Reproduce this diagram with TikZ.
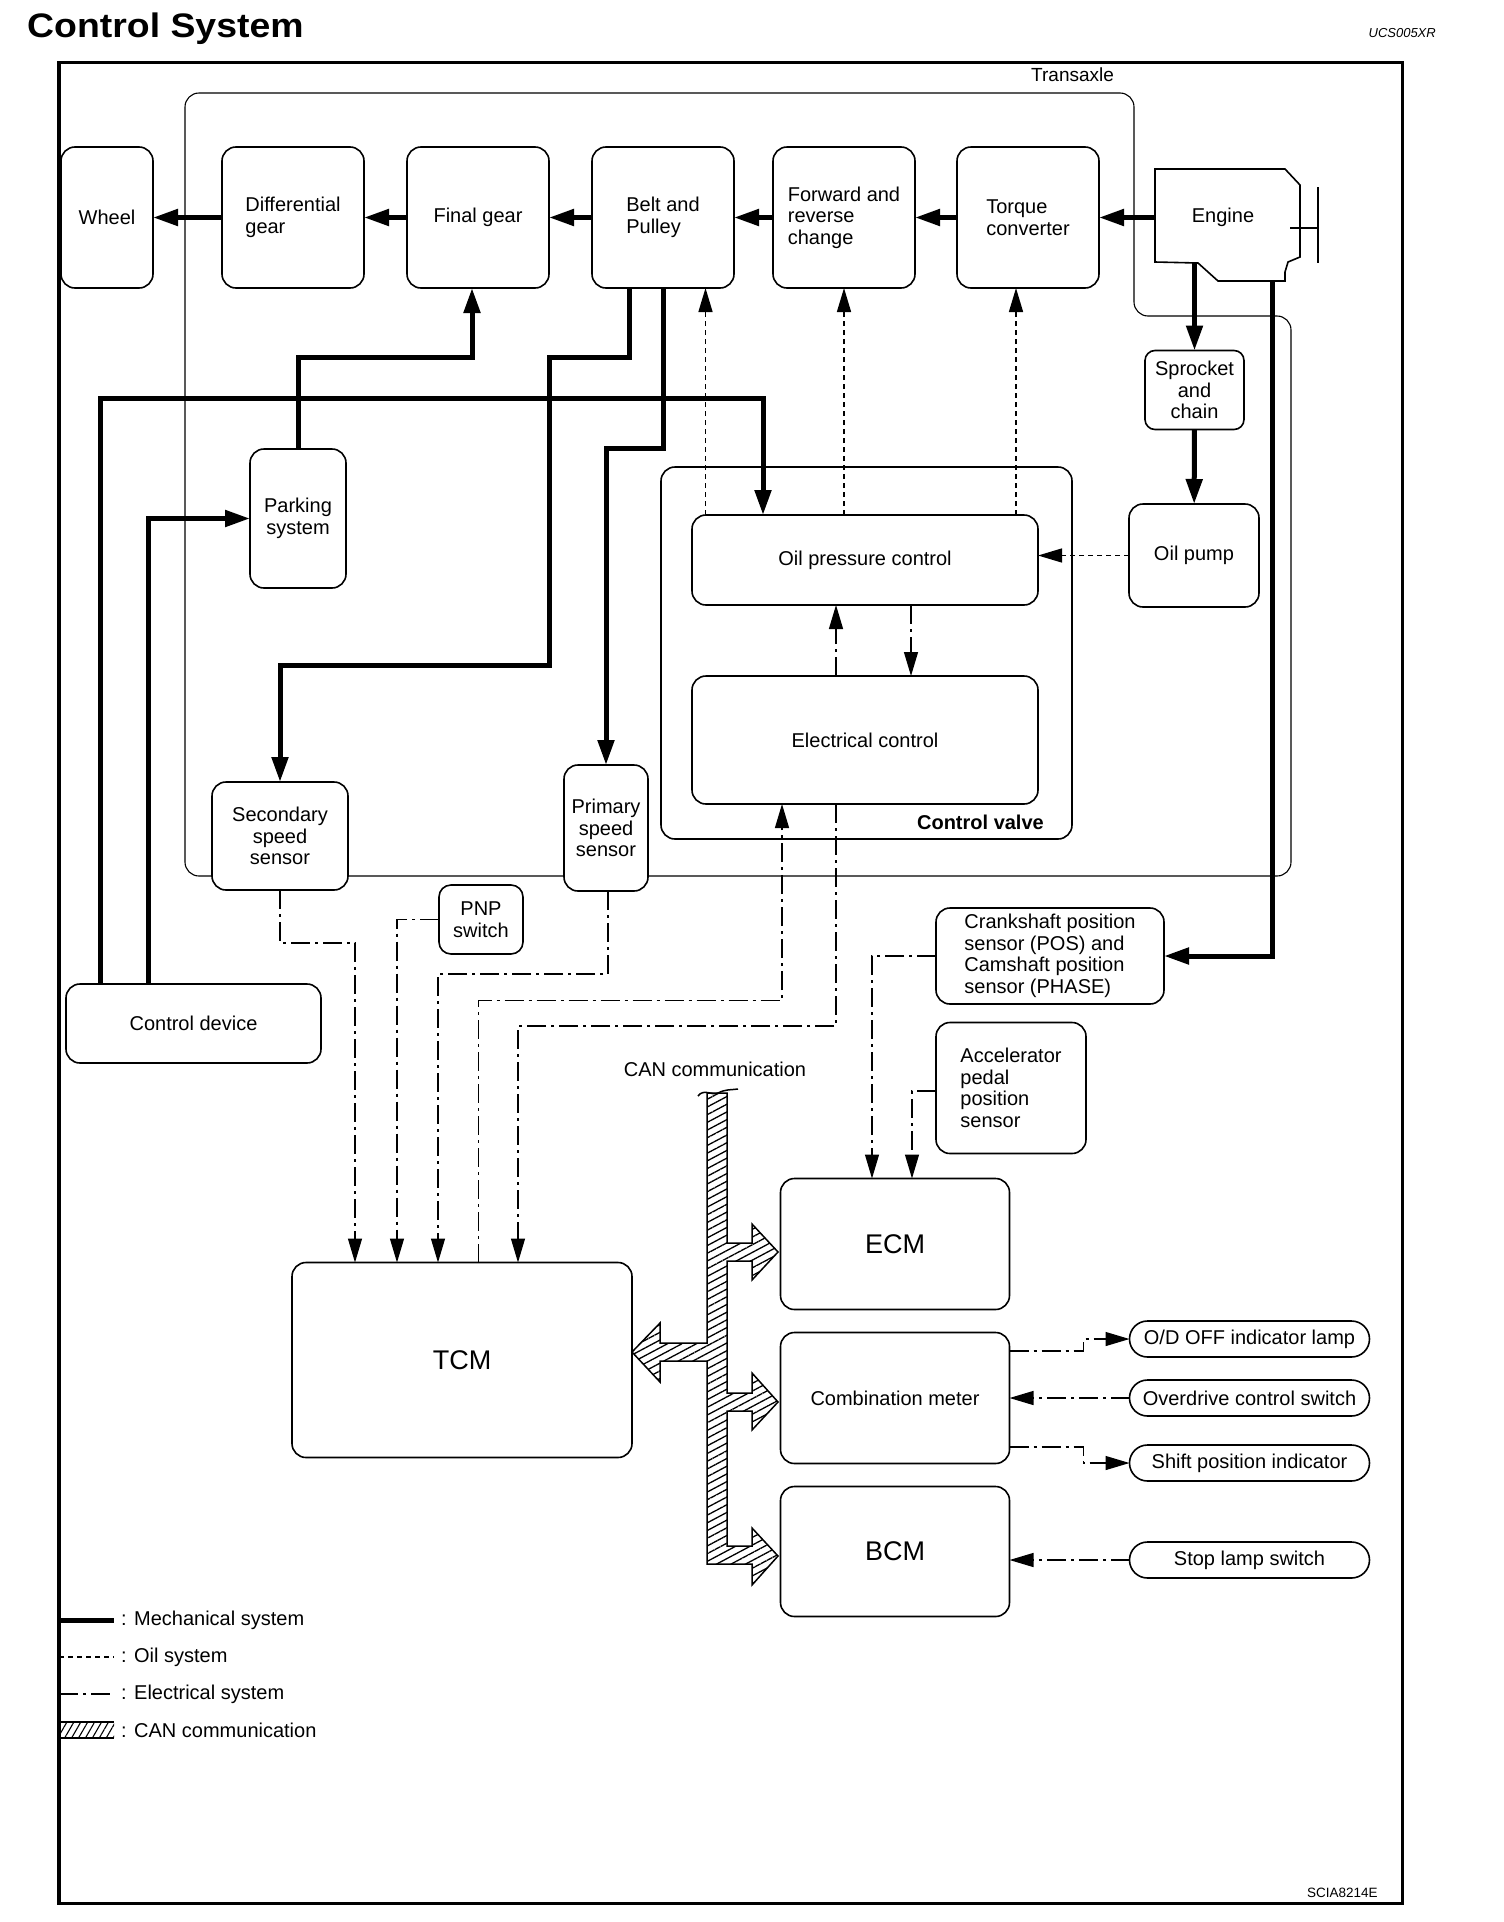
\documentclass[tikz,border=0pt]{standalone}
\usepackage{fontspec}
\setmainfont{Liberation Sans}
\usetikzlibrary{positioning, arrows.meta, patterns.meta}

\newcommand{\boxfont}{\fontsize{20}{21.5}\selectfont}
\newcommand{\bigfont}{\fontsize{27}{30}\selectfont}

\begin{document}
\begin{tikzpicture}[
    x=1pt, y=-1pt,
    node distance=23pt and 42pt,
    blk/.style={
        rectangle, rounded corners=14pt, draw, line width=1.6pt, fill=white,
        inner sep=2pt, outer sep=0pt, font=\boxfont, align=center
    },
    topblk/.style={blk, minimum width=142pt, minimum height=141pt},
    unit/.style={blk, minimum width=229pt, minimum height=131pt, font=\bigfont},
    pill/.style={blk, rounded corners=18pt, minimum width=240pt, minimum height=36pt},
    mechline/.style={line width=5pt},
    oilline/.style={line width=1.4pt, dash pattern=on 5pt off 4pt},
    elecline/.style={line width=1.3pt, dash pattern=on 19pt off 5pt on 3pt off 5pt},
    mech/.style={mechline, -{Triangle[length=25pt, width=16pt]}},
    oil/.style={oilline, -{Triangle[length=24pt, width=14pt]}},
    elec/.style={elecline, -{Triangle[length=24pt, width=14pt]}},
    can/.style={line width=1.5pt, pattern={Lines[angle=28, distance=6.8pt, line width=1.3pt]}}
]

\useasboundingbox (0,0) rectangle (1504,1922);

% Frame and titles
\draw[line width=3.5pt] (59,62.5) rectangle (1402.5,1903.5);
\node[anchor=base west, inner sep=0pt, font=\fontsize{34}{36}\selectfont\bfseries] (title) at (27,37) {\scalebox{1.1}[1]{Control System}};
\node[anchor=base east, inner sep=0pt, font=\fontsize{13}{15}\selectfont\itshape] (ucs) at (1436,37) {UCS005XR};
\node[anchor=base west, inner sep=0pt, font=\fontsize{13.5}{15}\selectfont] (scia) at (1307,1897) {SCIA8214E};

% Transaxle housing
\draw[line width=1.1pt, rounded corners=14pt] (600,93) -- (1134,93) -- (1134,316) -- (1291,316) -- (1291,876) -- (185,876) -- (185,93) -- cycle;
\node[anchor=base west, inner sep=0pt, font=\fontsize{19}{21}\selectfont] (transaxle) at (1031,81) {Transaxle};

% Control valve
\node[blk, minimum width=411pt, minimum height=372pt] (cv) at (866.5,653) {};
\node[anchor=base east, inner sep=0pt, font=\boxfont\bfseries] (cvlabel) at ([xshift=-28pt, yshift=10pt]cv.south east) {Control valve};

% Drive line — top row
\node[blk, minimum width=92pt, minimum height=141pt] (wheel) at (107,217.5) {Wheel};
\node[topblk, right=69pt of wheel, align=left] (diff) {Differential\\gear};
\node[topblk, right=43pt of diff] (fgear) {Final gear};
\node[topblk, right=43pt of fgear, align=left] (belt) {Belt and\\Pulley};
\node[topblk, right=39pt of belt, align=left] (fwd) {Forward and\\reverse\\change};
\node[topblk, right=42pt of fwd, align=left] (torque) {Torque\\converter};

% Engine
\draw[line width=1.6pt] (1155,169) -- (1285,169) -- (1300,185) -- (1300,257) -- (1288,262) -- (1285,272) -- (1285,281) -- (1218,281) -- (1198,263) -- (1155,262) -- cycle;
\draw[line width=1.6pt] (1318,187) -- (1318,263);
\draw[line width=1.6pt] (1290,228) -- (1318,228);
\node[font=\boxfont] (engine) at (1223,217) {Engine};
\coordinate (engW) at (1155,217.5);
\coordinate (engS) at (1194.5,262);
\coordinate (engD) at (1272,281);

% Right of the housing
\node[blk, rounded corners=10pt, minimum width=99pt, minimum height=79pt] (sprocket) at (1194.5,390) {Sprocket\\and\\chain};
\node[blk, minimum width=130pt, minimum height=103pt] (oilpump) at (1194,555.5) {Oil pump};

% Inside the housing
\node[blk, minimum width=96pt, minimum height=139pt] (parking) at (298,518.5) {Parking\\system};
\node[blk, minimum width=346pt, minimum height=90pt] (oilpc) at (865,560) {Oil pressure control};
\node[blk, minimum width=346pt, minimum height=128pt] (elecc) at (865,740) {Electrical control};
\node[blk, minimum width=136pt, minimum height=108pt] (secondary) at (280,836) {Secondary\\speed\\sensor};
\node[blk, minimum width=84pt, minimum height=126pt] (primary) at (606,828) {Primary\\speed\\sensor};

% Sensors and switches
\node[blk, rounded corners=12pt, minimum width=84pt, minimum height=69pt] (pnp) at (481,919.5) {PNP\\switch};
\node[blk, minimum width=255pt, minimum height=79pt] (ctrldev) at (193.5,1023.5) {Control device};
\node[blk, minimum width=228pt, minimum height=96pt, align=left] (crank) at (1050,956) {Crankshaft position\\sensor (POS) and\\Camshaft position\\sensor (PHASE)};
\node[blk, minimum width=150pt, minimum height=131pt, align=left] (accel) at (1011,1088) {Accelerator\\pedal\\position\\sensor};

% Control units
\node[blk, minimum width=340pt, minimum height=195pt, font=\bigfont] (tcm) at (462,1360) {TCM};
\node[unit] (ecm) at (895,1244) {ECM};
\node[unit, below=of ecm, font=\boxfont] (comb) {Combination meter};
\node[unit, below=of comb, minimum height=130pt] (bcm) {BCM};

\node[pill] (odoff) at (1249.5,1339) {O/D OFF indicator lamp};
\node[pill] (odsw) at (1249.5,1398) {Overdrive control switch};
\node[pill] (shiftind) at (1249.5,1463) {Shift position indicator};
\node[pill] (stoplamp) at (1249.5,1560) {Stop lamp switch};

% CAN communication
\node[font=\boxfont] (canlabel) at (715,1069) {CAN communication};
\draw[can] (707,1093) -- (727,1093) -- (727,1243) -- (752,1243) -- (752,1224) -- (778,1252) -- (752,1280) -- (752,1261) -- (727,1261)
    -- (727,1393) -- (752,1393) -- (752,1373) -- (778,1402) -- (752,1430) -- (752,1411) -- (727,1411)
    -- (727,1546) -- (752,1546) -- (752,1528) -- (778,1556) -- (752,1585) -- (752,1564) -- (707,1564)
    -- (707,1361) -- (660,1361) -- (660,1382) -- (632,1352) -- (660,1323) -- (660,1343) -- (707,1343) -- cycle;
\draw[line width=1.5pt] (698,1096) .. controls (704,1088) and (712,1096) .. (718,1093) .. controls (726,1089) and (731,1090) .. (738,1089);

% === Mechanical system ===
\draw[mech] (engW) -- (torque);
\draw[mech] (torque) -- (fwd);
\draw[mech] (fwd) -- (belt);
\draw[mech] (belt) -- (fgear);
\draw[mech] (fgear) -- (diff);
\draw[mech] (diff) -- (wheel);
\draw[mech] (engS) -- (sprocket);
\draw[mech] (sprocket) -- (oilpump);
\draw[mech] (engD) |- (crank.east);
\draw[mech] (parking.north) -- ++(0,-92) -| ([xshift=-6pt]fgear.south);
\draw[mech] ([xshift=-34pt]belt.south) |- ++(-80,69) -- ++(0,308) -| (secondary.north);
\draw[mech] (belt.south) -- ++(0,160) -| (primary.north);
\draw[mech] ([xshift=-93pt]ctrldev.north) -- ++(0,-586) -| ([xshift=-102pt]oilpc.north);
\draw[mech] ([xshift=-45pt]ctrldev.north) |- (parking.west);

% === Oil system ===
\draw[oil] ([xshift=-159.5pt]oilpc.north) -- ([xshift=42.5pt]belt.south);
\draw[oil] (oilpc.north -| fwd.south) -- (fwd.south);
\draw[oil] ([xshift=151pt]oilpc.north) -- ([xshift=-12pt]torque.south);
\draw[oil] (oilpump.west) -- (oilpump.west -| oilpc.east);

% === Electrical system ===
\draw[elec] ([xshift=-29pt]elecc.north) -- ([xshift=-29pt]oilpc.south);
\draw[elec] ([xshift=46pt]oilpc.south) -- ([xshift=46pt]elecc.north);
\draw[elec] ([xshift=16.5pt]tcm.north) -- ++(0,-262) -| ([xshift=-83pt]elecc.south);
\draw[elec] ([xshift=-29pt]elecc.south) -- ++(0,222) -| ([xshift=56pt]tcm.north);
\draw[elec] (secondary.south) -- ++(0,53) -| ([xshift=-107pt]tcm.north);
\draw[elec] (pnp.west) -| ([xshift=-65pt]tcm.north);
\draw[elec] ([xshift=2pt]primary.south) -- ++(0,83) -| ([xshift=-24pt]tcm.north);
\draw[elec] (crank.west) -| ([xshift=-23pt]ecm.north);
\draw[elec] ([yshift=-3pt]accel.west) -| ([xshift=17pt]ecm.north);
\draw[elec] ([yshift=47pt]comb.east) -- ++(74,0) |- (odoff.west);
\draw[elec] (odsw.west) -- (odsw.west -| comb.east);
\draw[elec] ([yshift=-49pt]comb.east) -- ++(74,0) |- (shiftind.west);
\draw[elec] (stoplamp.west) -- (stoplamp.west -| bcm.east);

% === Legend ===
\draw[mechline] (59,1620) -- (114,1620);
\node[anchor=west, inner sep=0pt, font=\boxfont] (legmech) at (121,1620) {: Mechanical system};
\draw[oilline] (59,1657) -- (114,1657);
\node[anchor=west, inner sep=0pt, font=\boxfont] (legoil) at (121,1657) {: Oil system};
\draw[elecline] (59,1694) -- (114,1694);
\node[anchor=west, inner sep=0pt, font=\boxfont] (legelec) at (121,1694) {: Electrical system};
\fill[pattern={Lines[angle=60, distance=6pt, line width=1.1pt]}] (59,1722) rectangle (114,1738);
\draw[line width=1.3pt] (59,1722) -- (114,1722);
\draw[line width=1.3pt] (59,1738) -- (114,1738);
\node[anchor=west, inner sep=0pt, font=\boxfont] (legcan) at (121,1730) {: CAN communication};

\end{tikzpicture}
\end{document}
